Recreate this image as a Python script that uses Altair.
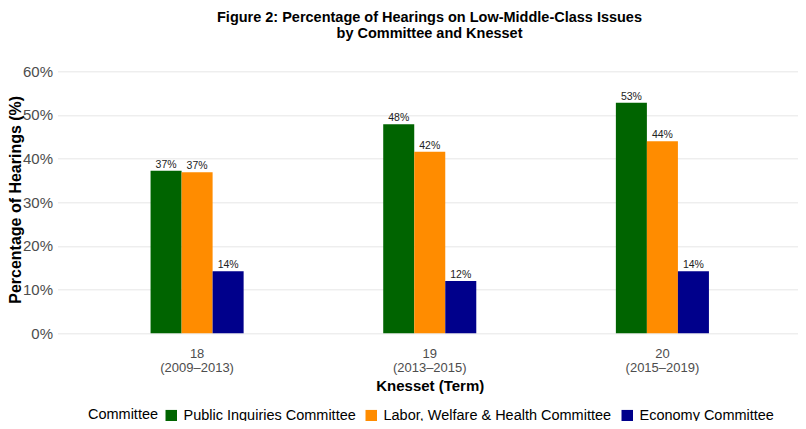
import altair as alt
import pandas as pd

knesset = ["18", "19", "20"]
terms = ["(2009–2013)", "(2013–2015)", "(2015–2019)"]
committees = ["Public Inquiries Committee", "Labor, Welfare & Health Committee", "Economy Committee"]
public_inquiries = [37.2, 47.9, 52.8]
labor_welfare = [36.9, 41.6, 44.0]
economy = [14.2, 12.0, 14.2]
y_grid = [0, 5, 10, 15, 20, 25, 30, 35, 40, 45, 50, 55, 60]
colors = ["#006400", "#FF8C00", "#00008B"]

rows = []
for series, name in zip([public_inquiries, labor_welfare, economy], committees):
    for k, t, v in zip(knesset, terms, series):
        rows.append({"term": k + "\n" + t, "committee": name, "pct": v, "label": f"{round(v)}%"})
df = pd.DataFrame(rows)
term_order = [k + "\n" + t for k, t in zip(knesset, terms)]

FONT = "Liberation Sans"
PLOT_W = 740
BAND_RANGE = 744.5

x_enc = alt.X(
    "term:N",
    sort=term_order,
    scale=alt.Scale(paddingInner=0.6, paddingOuter=0.4, range=[0, BAND_RANGE]),
    axis=alt.Axis(
        title="Knesset (Term)",
        labelAngle=0,
        labelFontSize=13,
        labelColor="#4d4d4d",
        labelLineHeight=14,
        labelPadding=14,
        labelExpr="split(datum.label, '\\n')",
        ticks=False,
        domain=False,
        grid=False,
        titleFontSize=15,
        titleFontWeight="bold",
        titleColor="black",
        titlePadding=4,
    ),
)
xoff_enc = alt.XOffset("committee:N", sort=committees, scale=alt.Scale(paddingInner=0, paddingOuter=0))
y_enc = alt.Y(
    "pct:Q",
    scale=alt.Scale(domain=[0, 60], nice=False),
    axis=alt.Axis(
        title="Percentage of Hearings (%)",
        values=y_grid,
        labelExpr="datum.value % 10 === 0 ? datum.value + '%' : ''",
        labelFontSize=15,
        labelColor="#4d4d4d",
        labelPadding=5,
        ticks=False,
        domain=False,
        gridColor={"condition": {"test": "datum.value % 10 === 0", "value": "#e6e6e6"}, "value": "#f3f3f3"},
        titleFontSize=16,
        titleFontWeight="bold",
        titleColor="black",
        titleX=-34,
        titleY=128,
    ),
)

bars = alt.Chart(df).mark_bar().encode(
    x=x_enc,
    xOffset=xoff_enc,
    y=y_enc,
    color=alt.Color(
        "committee:N",
        sort=committees,
        scale=alt.Scale(domain=committees, range=colors),
        legend=alt.Legend(
            title="Committee",
            orient="none",
            legendX=30.5,
            legendY=337,
            direction="horizontal",
            columns=3,
            titleOrient="left",
            titleFontSize=14.5,
            titleFontWeight="normal",
            titleColor="black",
            titlePadding=5,
            titleBaseline="middle",
            labelFontSize=14.5,
            labelColor="black",
            labelLimit=0,
            labelOffset=5,
            columnPadding=8,
            symbolType="square",
            symbolSize=132,
            symbolStrokeWidth=0,
            symbolOpacity=1,
        ),
    ),
)

labels = alt.Chart(df).mark_text(baseline="bottom", dy=-1, fontSize=10.5, color="#222222", font=FONT).encode(
    x=alt.X("term:N", sort=term_order),
    xOffset=xoff_enc,
    y=alt.Y("pct:Q"),
    text="label:N",
)

chart = (
    alt.layer(bars, labels)
    .properties(
        width=PLOT_W,
        height=262,
        autosize="none",
        padding={"left": 49.5, "top": 63.3, "right": 0.5, "bottom": 88},
        title=alt.TitleParams(
            ["Figure 2: Percentage of Hearings on Low-Middle-Class Issues", "by Committee and Knesset"],
            fontSize=14.5,
            fontWeight="bold",
            color="black",
            lineHeight=15.5,
            anchor="middle",
            frame="group",
            offset=23,
            dx=2,
            font=FONT,
        ),
    )
    .configure_view(stroke=None)
    .configure_axis(labelFont=FONT, titleFont=FONT)
    .configure_legend(labelFont=FONT, titleFont=FONT)
)

chart.save("out.html", embed_options={"renderer": "svg", "actions": False})
